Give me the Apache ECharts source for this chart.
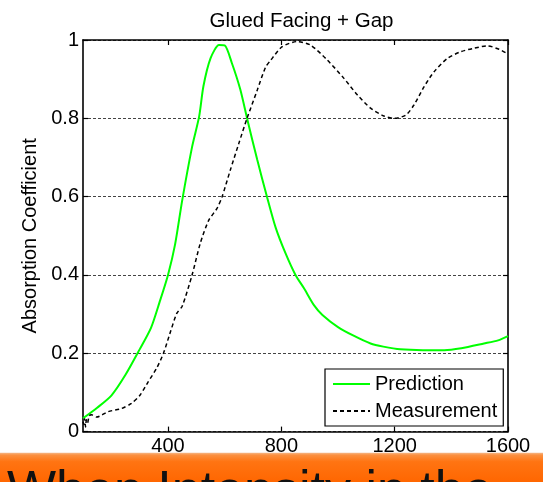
<!DOCTYPE html>
<html>
<head>
<meta charset="utf-8">
<script src="https://cdn.jsdelivr.net/npm/echarts@6/dist/echarts.min.js"></script>
<style>
  html, body { margin: 0; padding: 0; background: #ffffff; }
  #chart { width: 543px; height: 482px; }
</style>
</head>
<body>
<div id="chart"></div>
<script>
// Frequency (Hz) and absorption coefficient for the two curves
const predFreq = [100, 150, 200, 250, 300, 340, 370, 400, 425, 450, 485, 510, 525, 550, 580, 600, 625, 655, 680, 715, 750, 780, 815, 850, 880, 915, 945, 1000, 1055, 1115, 1160, 1220, 1300, 1375, 1435, 1515, 1565, 1600];
const predAbs  = [0.034, 0.061, 0.092, 0.145, 0.21, 0.265, 0.33, 0.40, 0.478, 0.59, 0.727, 0.805, 0.882, 0.953, 0.987, 0.986, 0.942, 0.874, 0.797, 0.694, 0.598, 0.521, 0.455, 0.40, 0.366, 0.323, 0.298, 0.267, 0.245, 0.225, 0.217, 0.21, 0.208, 0.208, 0.213, 0.225, 0.233, 0.244];

const measFreq = [100, 103, 106, 109, 112, 116, 122, 130, 148, 189, 236, 271, 301, 330, 360, 384, 407, 431, 450, 485, 514, 544, 573, 591, 620, 650, 679, 715, 744, 762, 803, 856, 903, 962, 1021, 1068, 1115, 1162, 1198, 1239, 1268, 1304, 1339, 1386, 1433, 1480, 1528, 1569, 1600];
const measAbs  = [0.025, 0.018, 0.033, 0.012, 0.03, 0.022, 0.04, 0.043, 0.037, 0.051, 0.059, 0.072, 0.093, 0.127, 0.162, 0.2, 0.251, 0.302, 0.32, 0.40, 0.481, 0.54, 0.57, 0.60, 0.668, 0.736, 0.80, 0.872, 0.93, 0.948, 0.983, 0.996, 0.987, 0.949, 0.902, 0.86, 0.826, 0.806, 0.80, 0.808, 0.834, 0.881, 0.919, 0.953, 0.97, 0.979, 0.985, 0.976, 0.964];

const xTicks = [400, 800, 1200, 1600];
const seriesNames = ['Prediction', 'Measurement'];
const chartTitle = 'Glued Facing + Gap';
const yAxisTitle = 'Absorption Coefficient';
const bannerText = 'When Intensity in the';

const FONT = "'Liberation Sans', Arial, Helvetica, sans-serif";

function pairs(xs, ys) {
  return xs.map((x, i) => [x, ys[i]]);
}

const chart = echarts.init(document.getElementById('chart'), null, { renderer: 'canvas' });

const frameLine = { show: true, onZero: false, lineStyle: { color: '#000', width: 1.6 } };
const innerTick = { show: true, inside: true, length: 5, lineStyle: { color: '#000', width: 1.2 } };

chart.setOption({
  animation: false,
  backgroundColor: '#ffffff',
  textStyle: { fontFamily: FONT },
  title: {
    text: chartTitle,
    left: 296.5,
    textAlign: 'center',
    top: 6,
    textStyle: { fontFamily: FONT, fontSize: 20.5, fontWeight: 'normal', color: '#000' }
  },
  grid: { left: 83, right: 35, top: 40, bottom: 50.4, containLabel: false },
  legend: {
    data: seriesNames,
    orient: 'vertical',
    left: 325,
    top: 369,
    backgroundColor: '#ffffff',
    borderColor: '#000',
    borderWidth: 1.2,
    borderRadius: 0,
    padding: [5, 6, 5, 7],
    itemGap: 7,
    itemWidth: 37,
    itemHeight: 14,
    itemStyle: { opacity: 0 },
    textStyle: { fontFamily: FONT, fontSize: 20, color: '#000' }
  },
  xAxis: [
    {
      type: 'value', position: 'bottom', min: 100, max: 1600,
      axisLine: frameLine,
      axisTick: Object.assign({}, innerTick, { customValues: xTicks }),
      axisLabel: {
        customValues: xTicks, margin: 5, fontFamily: FONT, fontSize: 20, color: '#000',
        formatter: v => String(v)
      },
      splitLine: { show: false }
    },
    {
      type: 'value', position: 'top', min: 100, max: 1600,
      axisLine: frameLine,
      axisTick: Object.assign({}, innerTick, { customValues: xTicks }),
      axisLabel: { show: false },
      splitLine: { show: false }
    }
  ],
  yAxis: [
    {
      type: 'value', position: 'left', min: 0, max: 1, interval: 0.2,
      name: yAxisTitle, nameLocation: 'middle', nameGap: 31, nameRotate: 90,
      nameTextStyle: { fontFamily: FONT, fontSize: 20, color: '#000' },
      axisLine: frameLine,
      axisTick: innerTick,
      axisLabel: { margin: 4, fontFamily: FONT, fontSize: 20, color: '#000' },
      splitLine: { show: true, lineStyle: { color: '#444', width: 1, type: [3, 2] } }
    },
    {
      type: 'value', position: 'right', min: 0, max: 1, interval: 0.2,
      axisLine: frameLine,
      axisTick: innerTick,
      axisLabel: { show: false },
      splitLine: { show: false }
    }
  ],
  series: [
    {
      name: seriesNames[0], type: 'line', xAxisIndex: 0, yAxisIndex: 0,
      data: pairs(predFreq, predAbs),
      showSymbol: false, symbol: 'none', smooth: 0.25,
      lineStyle: { color: '#00ff00', width: 2 },
      itemStyle: { color: '#00ff00' },
      z: 3
    },
    {
      name: seriesNames[1], type: 'line', xAxisIndex: 0, yAxisIndex: 0,
      data: pairs(measFreq, measAbs),
      showSymbol: false, symbol: 'none', smooth: 0.25,
      lineStyle: { color: '#000', width: 1.5, type: [4, 3] },
      itemStyle: { color: '#000' },
      z: 4
    }
  ],
  graphic: [
    {
      type: 'rect',
      x: 0, y: 452.7,
      shape: { width: 543, height: 30 },
      style: {
        fill: new echarts.graphic.LinearGradient(0, 0, 0, 1, [
          { offset: 0, color: '#f4b88a' },
          { offset: 0.08, color: '#fb9040' },
          { offset: 0.3, color: '#ff7412' },
          { offset: 1, color: '#ff6600' }
        ])
      },
      z: 10
    },
    {
      type: 'text',
      x: 7, y: 467,
      style: { text: bannerText, font: '52px ' + FONT, fill: '#111', verticalAlign: 'top' },
      z: 11
    }
  ]
});
</script>
</body>
</html>
